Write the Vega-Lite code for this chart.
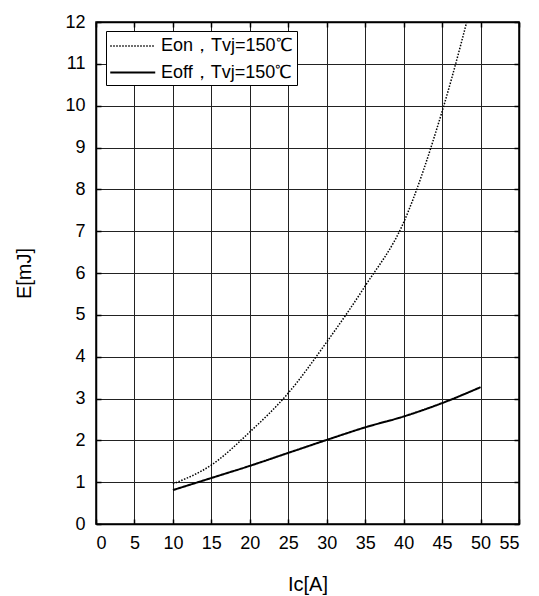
{
  "$schema": "https://vega.github.io/schema/vega-lite/v6.json",
  "width": 423,
  "height": 502,
  "autosize": {"type": "none"},
  "padding": {"left": 96, "top": 22, "right": 20, "bottom": 72},
  "background": "white",
  "config": {
    "font": "Liberation Sans",
    "view": {"stroke": "black", "strokeWidth": 1.5},
    "axis": {
      "labelFont": "Liberation Sans",
      "titleFont": "Liberation Sans",
      "labelFontSize": 18,
      "titleFontSize": 20,
      "titleFontWeight": "normal",
      "labelColor": "black",
      "titleColor": "black",
      "gridColor": "#222",
      "gridWidth": 1,
      "gridOpacity": 1,
      "domainColor": "black",
      "domainWidth": 1.5,
      "tickColor": "black",
      "tickWidth": 1.5,
      "tickSize": -5
    }
  },
  "data": {
    "values": [
      {"Ic": 10, "E": 0.96, "series": "Eon，Tvj=150℃"},
      {"Ic": 15, "E": 1.41, "series": "Eon，Tvj=150℃"},
      {"Ic": 20, "E": 2.2, "series": "Eon，Tvj=150℃"},
      {"Ic": 25, "E": 3.13, "series": "Eon，Tvj=150℃"},
      {"Ic": 30, "E": 4.35, "series": "Eon，Tvj=150℃"},
      {"Ic": 35, "E": 5.69, "series": "Eon，Tvj=150℃"},
      {"Ic": 40, "E": 7.21, "series": "Eon，Tvj=150℃"},
      {"Ic": 45, "E": 9.86, "series": "Eon，Tvj=150℃"},
      {"Ic": 50, "E": 13.3, "series": "Eon，Tvj=150℃"},
      {"Ic": 10, "E": 0.81, "series": "Eoff，Tvj=150℃"},
      {"Ic": 15, "E": 1.1, "series": "Eoff，Tvj=150℃"},
      {"Ic": 20, "E": 1.39, "series": "Eoff，Tvj=150℃"},
      {"Ic": 25, "E": 1.7, "series": "Eoff，Tvj=150℃"},
      {"Ic": 30, "E": 2.01, "series": "Eoff，Tvj=150℃"},
      {"Ic": 35, "E": 2.31, "series": "Eoff，Tvj=150℃"},
      {"Ic": 40, "E": 2.57, "series": "Eoff，Tvj=150℃"},
      {"Ic": 45, "E": 2.89, "series": "Eoff，Tvj=150℃"},
      {"Ic": 50, "E": 3.27, "series": "Eoff，Tvj=150℃"}
    ]
  },
  "layer": [
    {
      "mark": {"type": "line", "interpolate": "monotone", "color": "black", "clip": true},
      "encoding": {
        "x": {
          "field": "Ic", "type": "quantitative",
          "scale": {"domain": [0, 55], "nice": false},
          "axis": {"values": [0,5,10,15,20,25,30,35,40,45,50,55], "title": "Ic[A]", "labelPadding": 15, "titlePadding": 22, "orient": "bottom"}
        },
        "y": {
          "field": "E", "type": "quantitative",
          "scale": {"domain": [0, 12], "nice": false},
          "axis": {"values": [0,1,2,3,4,5,6,7,8,9,10,11,12], "title": "E[mJ]", "labelPadding": 16, "titlePadding": 30, "orient": "left"}
        },
        "strokeDash": {
          "field": "series", "type": "nominal",
          "scale": {"domain": ["Eon，Tvj=150℃", "Eoff，Tvj=150℃"], "range": [[1.5, 1.5], [1, 0]]},
          "legend": {
            "title": null,
            "orient": "none",
            "legendX": 10,
            "legendY": 9,
            "fillColor": "white",
            "strokeColor": "black",
            "padding": 3,
            "symbolType": "M-1,0L3,0",
            "symbolSize": 506,
            "symbolFillColor": "transparent",
            "symbolStrokeColor": "black",
            "symbolStrokeWidth": 1.8,
            "labelFontSize": 18,
            "labelFont": "Liberation Sans",
            "labelColor": "black",
            "rowPadding": 5,
            "labelOffset": 27
          }
        },
        "strokeWidth": {
          "field": "series", "type": "nominal",
          "scale": {"domain": ["Eon，Tvj=150℃", "Eoff，Tvj=150℃"], "range": [1.5, 2]},
          "legend": null
        }
      }
    },
    {
      "mark": {"type": "line", "opacity": 0},
      "encoding": {
        "x": {"field": "Ic", "type": "quantitative", "axis": {"orient": "top", "labels": false, "title": null, "grid": false, "values": [0,5,10,15,20,25,30,35,40,45,50,55]}},
        "y": {"field": "E", "type": "quantitative", "axis": {"orient": "right", "labels": false, "title": null, "grid": false, "values": [0,1,2,3,4,5,6,7,8,9,10,11,12]}},
        "detail": {"field": "series"}
      }
    }
  ],
  "resolve": {"axis": {"x": "independent", "y": "independent"}}
}
